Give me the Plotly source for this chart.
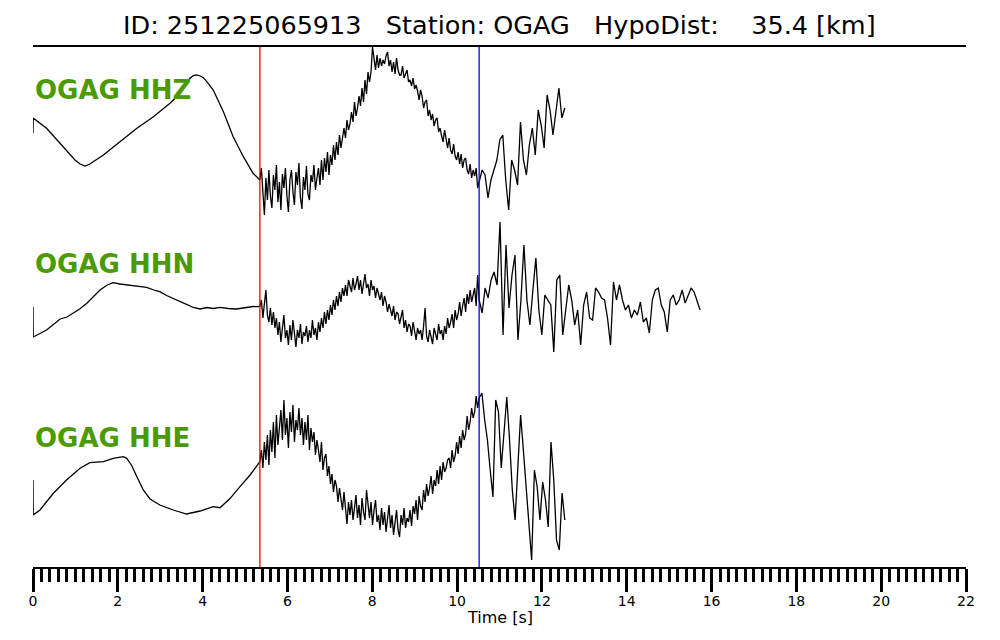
import numpy as np
import plotly.graph_objects as go

# ---- picks / metadata ----
P_TIME = 5.35
S_TIME = 10.52
TITLE = "ID: 251225065913   Station: OGAG   HypoDist:    35.4 [km]"
CHANNELS = ["OGAG HHZ", "OGAG HHN", "OGAG HHE"]
END_TIMES = [12.54, 15.73, 12.54]

# ---- pre-P (smooth) portions: times and amplitudes ----
hhz_pre_t = [0.0, 0.005, 0.32, 0.71, 0.99, 1.11, 1.23, 1.34, 1.66, 2.05, 2.45, 2.84, 3.23, 3.47,
             3.70, 3.78, 3.86, 3.94, 4.02, 4.13, 4.25, 4.49, 4.72, 4.96, 5.19, 5.35]
hhz_pre_v = [-3, 12, 1.7, -16.7, -30, -34, -36, -34, -25, -11.7, 1.7, 13.3, 26.7, 36.7,
             51.7, 54.3, 55, 54, 52.3, 46.7, 40, 18.3, -6.7, -26.7, -43.3, -50]

hhn_pre_t = [0.0, 0.005, 0.32, 0.50, 0.64, 0.80, 0.95, 1.10, 1.27, 1.42, 1.58, 1.75, 1.89, 2.05,
             2.21, 2.45, 2.68, 2.85, 2.99, 3.15, 3.31, 3.45, 3.62, 3.78, 3.94, 4.10, 4.25, 4.41,
             4.60, 4.80, 5.00, 5.19, 5.35]
hhn_pre_v = [-7, -37, -30, -24, -19, -17, -13.3, -9, -3.3, 3, 10, 15, 17.3, 16,
             15, 13.5, 12.7, 10, 8.3, 4.5, 1.7, -1.5, -4.3, -7.5, -9, -7.5, -8.5, -7.3,
             -8.5, -9, -7.5, -6.5, -6.7]

hhe_pre_t = [0.0, 0.005, 0.165, 0.48, 0.79, 1.11, 1.34, 1.66, 1.89, 2.05, 2.13, 2.21, 2.32, 2.45,
             2.60, 2.76, 2.99, 3.31, 3.62, 3.94, 4.25, 4.41, 4.65, 4.88, 5.12, 5.35]
hhe_pre_v = [-10, -45, -40, -23.3, -10, 1.7, 7.3, 8.3, 11.7, 13, 13.3, 11.7, 5, -6.7,
             -20, -29, -35, -40, -44, -41, -36.7, -37.7, -28.3, -16.7, -5, 8.3]

# ---- P to S portions (densely sampled, P_TIME -> S_TIME) ----
hhz_ps_v = [-50, -38, -62, -85, -48, -70, -40, -66, -78, -45, -60, -35, -72, -52, -80, -44, -58,
            -38, -66, -82, -50, -40, -62, -75, -42, -55, -33, -68, -79, -47, -60, -36, -64, -70,
            -45, -52, -35, -60, -48,
            -38, -55, -30, -50, -28, -42, -22, -45, -25, -35, -15, -30,
            -12, -25, -5, -18, -10, 2, -8, 10, 0, 6, 18, 8, 28, 14, 22, 34, 24, 42, 28, 50, 36,
            58, 48,
            58, 83, 70, 60, 75, 62, 72, 64, 70, 66, 74, 78, 64, 70, 58, 68, 56, 72, 60, 55,
            55, 64, 52, 57, 60, 48, 50, 44, 52, 41, 45, 39, 30, 40, 34, 22, 28, 30, 14, 20,
            10, 16, 4, 10, 12, -2, 2, -6, -12, 0, -10, -18, -8, -20, -24, -14, -26, -30, -22,
            -34, -24, -38, -30, -28, -40, -44, -34, -48, -40, -46, -38, -58, -52]

hhn_ps_v = [-7, 0, -18, -5, 10, -15, -22, -8, -25, -12, -28,
            -18, -35, -22, -42, -28, -15, -38, -30, -45, -25, -40, -20, -33, -47, -30, -38, -24,
            -44, -32, -36, -26, -42, -30, -38, -20, -35, -28, -40,
            -22, -32, -18, -28, -12, -24, -10, -20, -5, -15, 0, -10, 4, -6, 8, -2, 12, 4,
            15, 4, 20, 12, 8, 22, 10, 16, 24, 10, 20, 6, 18, 26, 12, 16, 4, 20, 10, 14, 2, 12, 6,
            0, 8, -6, 4, -2, -12, -4, -10, -16, -6, -20, -12, -14, -24, -18, -10, -28, -20, -32,
            -24, -26, -36, -22, -30, -40, -28, -34,
            -30, -40, -26, -8, -36, -42, -30, -38, -44, -28, -36, -40, -24, -34, -30, -40, -26,
            -34, -18, -28, -22, -14, -28, -10, -20, -14, -2, -16, -6, 2, -12, 6, -4, 10, -2, 4,
            12, -6, 25, 0]

hhe_ps_v = [8, 20, 2, 28, 10, 35, 5, 40, 18, 48, 12, 55, 25, 45, 60, 30, 70, 35, 52, 22, 58, 38,
            65, 28, 50, 40, 62,
            35, 52, 25, 48, 30, 55, 20, 42, 28, 38, 15, 30, 20,
            8, 28, 0, 12, 16, -6, 4, -14, -4, -22, -10, -16, -32, -18, -28, -40, -22, -36, -54, -32,
            -45, -30, -50, -38, -25, -48, -35, -55, -28, -42, -50, -20, -38, -48, -32, -55, -40,
            -30, -52, -45, -60, -38, -55, -42, -62, -48, -35, -58, -45, -65, -50, -40, -60, -67,
            -45, -55, -38, -58, -48, -52,
            -40, -56, -36, -44, -30, -50, -26, -36, -40, -20, -32, -14, -26, -18, -6, -24, -10,
            -16, 0, -14, 4, -10, 8, -2, 2, 10,
            12, 2, 20, 8, 14, 28, 16, 34, 22, 40, 30, 36, 54, 40, 48, 62, 52, 58, 74, 62, 72]

# ---- post-S portions (S_TIME -> trace end) ----
hhz_s_v = [-52, -40, -45, -68, -50, -40, -30, -10, -5, -50, -80, -30, -40, -55, 8, -30, -45, -15,
           2, -25, 20, 5, -18, 35, 20, -5, 20, 42, 12, 22]

hhn_s_v = [0, -13, 12, 2, 20, 28, 15, 78, -35, 55, -8, 25, 45, -40, 0, 55, 0, -25, 10, 42, -10,
           -35, 5, 0, -5, -52, 20, 25, -35, -10, 15, 0, -25, -10, -45, -5, 8, -18, -20, 12, 8, 2,
           0, -18, -45, 18, 0, 15, 0, -10, -5, -18, -10, -15, -2, -22, -18, -33, 0, 10, 12, -5,
           -12, -32, 0, 5, -5, 0, 10, -3, 5, 12, 8, 0, -10]

hhe_s_v = [72, 77, 50, 30, 0, -27, 70, 58, 2, 40, 73, 30, -20, -50, 5, 55, 20, -15, -55, -90, 0,
           -17, -50, -12, -30, -57, 28, -10, -70, -80, -23, -50]

# vertical offsets of the three traces (stacked display)
OFFSETS = [170, 0, -170]
LABEL_SHIFT = [40, 36, 32.5]

pre_t = [hhz_pre_t, hhn_pre_t, hhe_pre_t]
pre_v = [hhz_pre_v, hhn_pre_v, hhe_pre_v]
ps_v = [hhz_ps_v, hhn_ps_v, hhe_ps_v]
s_v = [hhz_s_v, hhn_s_v, hhe_s_v]

fig = go.Figure()
for i in range(3):
    t_ps = np.linspace(P_TIME, S_TIME, len(ps_v[i]))
    t_s = np.linspace(S_TIME, END_TIMES[i], len(s_v[i]))
    t = np.concatenate([np.array(pre_t[i]), t_ps[1:], t_s[1:]])
    v = np.concatenate([np.array(pre_v[i]), np.array(ps_v[i][1:]), np.array(s_v[i][1:])])
    fig.add_trace(go.Scatter(x=t, y=v + OFFSETS[i], mode="lines",
                             line=dict(color="black", width=1.3), showlegend=False,
                             hoverinfo="skip"))
    fig.add_annotation(x=0, y=OFFSETS[i] + LABEL_SHIFT[i], xref="x", yref="y",
                       text="<b>%s</b>" % CHANNELS[i], showarrow=False,
                       xanchor="left", yanchor="middle",
                       font=dict(family="DejaVu Sans", size=26, color="#4c9a02"))

# picks
fig.add_shape(type="line", x0=P_TIME, x1=P_TIME, xref="x", y0=0, y1=1, yref="paper",
              line=dict(color="red", width=1.3))
fig.add_shape(type="line", x0=S_TIME, x1=S_TIME, xref="x", y0=0, y1=1, yref="paper",
              line=dict(color="blue", width=1.3))
# top rule
fig.add_shape(type="line", x0=0, x1=1, xref="paper", y0=1, y1=1, yref="paper",
              line=dict(color="black", width=2))

fig.add_annotation(x=0.5, y=1.0403, xref="paper", yref="paper", text=TITLE, showarrow=False,
                   xanchor="center", yanchor="middle",
                   font=dict(family="DejaVu Sans", size=25.5, color="black"))
fig.add_annotation(x=0.5, y=-0.097, xref="paper", yref="paper", text="Time [s]",
                   showarrow=False, xanchor="center", yanchor="middle",
                   font=dict(family="DejaVu Sans", size=16, color="black"))

fig.update_layout(
    width=1000, height=640,
    margin=dict(l=33, r=34, t=46, b=73),
    paper_bgcolor="white", plot_bgcolor="white",
    xaxis=dict(range=[0, 22], tickmode="array", tickvals=list(range(0, 23, 2)),
               ticks="outside", ticklen=23, tickwidth=3, tickcolor="black",
               showline=True, linecolor="black", linewidth=2, showgrid=False, zeroline=False,
               ticklabelstandoff=-3,
               tickfont=dict(family="DejaVu Sans", size=14, color="black"),
               minor=dict(dtick=0.2, ticks="outside", ticklen=13, tickwidth=2.5,
                          tickcolor="black", showgrid=False)),
    yaxis=dict(range=[-267, 254], visible=False, showgrid=False, zeroline=False),
)

fig.write_html("out.html", config={"displayModeBar": False},
               post_script="document.body.style.margin='0px';")
